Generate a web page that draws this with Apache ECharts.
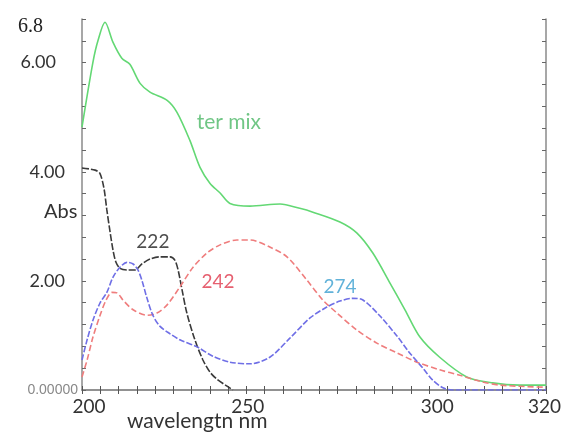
<!DOCTYPE html>
<html>
<head>
<meta charset="utf-8">
<script src="https://cdn.jsdelivr.net/npm/echarts@6/dist/echarts.min.js"></script>
<style>
  html, body { margin: 0; padding: 0; background: #fff; }
  #chart { width: 565px; height: 434px; }
</style>
</head>
<body>
<div id="chart"></div>
<script>
// wavelength (nm) / absorbance pairs
var terMixWl  = [200, 203, 204.4, 206.3, 208.5, 210.9, 213.1, 215.9, 218.6, 223.3, 226, 229.5, 232.3, 235, 237.8, 240.5, 246, 254.2, 259.6, 263.2, 270.6, 275.2, 279.6, 284.3, 288.4, 292.5, 297.9, 305.3, 312.4, 319.8, 327];
var terMixAbs = [4.82, 6.01, 6.41, 6.74, 6.37, 6.08, 5.97, 5.62, 5.46, 5.31, 5.09, 4.58, 4.08, 3.79, 3.61, 3.42, 3.37, 3.41, 3.33, 3.26, 3.08, 2.88, 2.51, 1.96, 1.47, 0.97, 0.60, 0.24, 0.13, 0.09, 0.09];

var c222Wl  = [200, 203.6, 204.9, 206, 206.8, 207.7, 208.5, 209.3, 210.4, 212.3, 214.5, 216.4, 218.6, 221.3, 224.1, 225.4, 226.3, 227.4, 228.7, 230.9, 233.1, 235, 236.9, 239.7, 241.3];
var c222Abs = [4.07, 4.03, 3.97, 3.70, 3.30, 2.89, 2.56, 2.34, 2.23, 2.20, 2.20, 2.31, 2.40, 2.44, 2.44, 2.38, 2.20, 1.83, 1.41, 0.92, 0.55, 0.33, 0.20, 0.07, 0];

var c242Wl  = [200, 201.4, 203, 204.9, 206.6, 208.2, 209.6, 211.2, 214, 217.8, 220.5, 223.3, 226.8, 230.4, 234.2, 237.8, 242.4, 246, 251.4, 256.1, 261.6, 265.9, 269.8, 275.2, 280.7, 286.2, 291.7, 297.9, 303.4, 308.9, 314.4, 327];
var c242Abs = [0.24, 0.55, 0.97, 1.36, 1.65, 1.79, 1.78, 1.65, 1.47, 1.37, 1.41, 1.56, 1.89, 2.25, 2.51, 2.66, 2.75, 2.75, 2.62, 2.44, 2.01, 1.65, 1.41, 1.10, 0.86, 0.68, 0.51, 0.37, 0.27, 0.16, 0.09, 0.05];

var c274Wl  = [200, 201.4, 203, 204.9, 206.8, 208.5, 210.4, 212.3, 214, 215.3, 216.4, 217.8, 219.4, 221.3, 224.1, 226.8, 231.5, 235.8, 240.5, 246, 251.4, 256.9, 262.4, 267, 270.6, 274.1, 276.9, 281.5, 286.2, 289.7, 293.3, 296, 298.8, 301.2, 310, 327];
var c274Abs = [0.55, 0.92, 1.28, 1.59, 1.79, 2.07, 2.25, 2.34, 2.31, 2.20, 2.01, 1.68, 1.37, 1.17, 1.03, 0.92, 0.79, 0.62, 0.51, 0.48, 0.60, 0.95, 1.32, 1.52, 1.63, 1.68, 1.65, 1.36, 0.99, 0.68, 0.40, 0.18, 0.04, 0, 0, 0];

var xLabelValues = [200, 250, 300, 320];
var yLabelValues = [0, 2, 4, 6, 6.8];

// peak annotations written on the plot
var noteText  = ['ter mix', '222', '242', '274'];
var noteWl    = [240.2, 219.4, 237.2, 270.6];
var noteAbs   = [4.91, 2.71, 1.98, 1.89];
var noteColor = ['#4cb866', '#222222', '#e0384c', '#3a9fd0'];

function pairs(xs, ys) {
    return xs.map(function (x, i) { return [x, ys[i]]; });
}

var chart = echarts.init(document.getElementById('chart'), null, { renderer: 'canvas' });

var frame = { lineStyle: { color: '#8a8a8a', width: 1.5 } };

var series = [
    { name: 'ter mix', data: pairs(terMixWl, terMixAbs), color: '#63d874', type: 'solid' },
    { name: '222', data: pairs(c222Wl, c222Abs), color: '#3a3a3a', type: [7, 2] },
    { name: '242', data: pairs(c242Wl, c242Abs), color: '#ef7d7d', type: [6, 3] },
    { name: '274', data: pairs(c274Wl, c274Abs), color: '#6f6fe6', type: [6, 2] }
].map(function (s) {
    return {
        name: s.name,
        type: 'line',
        data: s.data,
        smooth: 0.3,
        symbol: 'none',
        lineStyle: { color: s.color, width: 1.6, type: s.type },
        z: 3
    };
});

noteText.forEach(function (t, i) {
    series.push({
        type: 'scatter',
        data: [[noteWl[i], noteAbs[i]]],
        symbolSize: 0,
        silent: true,
        label: {
            show: true,
            position: 'inside',
            formatter: t,
            color: noteColor[i],
            fontSize: i === 0 ? 21 : 19,
            fontFamily: 'Lato'
        },
        z: 5
    });
});

chart.setOption({
    animation: false,
    backgroundColor: '#fff',
    grid: { left: 82, right: 19, top: 19, bottom: 44 },
    xAxis: [{
        type: 'value', min: 200, max: 327, interval: 5,
        axisLine: frame,
        axisTick: { inside: true, length: 4, lineStyle: { color: '#555' } },
        splitLine: { show: false },
        axisLabel: {
            customValues: xLabelValues,
            margin: 7,
            formatter: function (v) {
                // the printed labels sit a little off their ticks
                if (v === 200) return '{a|200}';
                if (v === 250) return '{b|250}';
                if (v === 300) return '{c|300}';
                return '{d|' + v + '}';
            },
            rich: {
                a: { color: '#333', fontSize: 19, fontFamily: 'Lato', padding: [0, 0, 0, 14] },
                b: { color: '#333', fontSize: 19, fontFamily: 'Lato', padding: [0, 34, 0, 0] },
                c: { color: '#333', fontSize: 19, fontFamily: 'Lato', padding: [0, 20, 0, 0] },
                d: { color: '#333', fontSize: 19, fontFamily: 'Lato', padding: [0, 0, 0, 48] }
            }
        }
    }, {
        type: 'value', min: 200, max: 327, interval: 5, position: 'top',
        axisLine: frame,
        axisTick: { inside: true, length: 4, lineStyle: { color: '#555' } },
        splitLine: { show: false },
        axisLabel: { show: false }
    }],
    yAxis: [{
        type: 'value', min: 0, max: 6.8, interval: 0.4,
        axisLine: frame,
        axisTick: { inside: true, length: 4, lineStyle: { color: '#666' } },
        splitLine: { show: false },
        axisLabel: {
            customValues: yLabelValues,
            margin: 4,
            formatter: function (v) {
                if (v === 0) return '{z|0.00000}';
                if (v === 6.8) return '{t|6.8}';
                if (v === 6) return '{s|6.00}';
                return '{n|' + v.toFixed(2) + '}';
            },
            rich: {
                z: { color: '#888', fontSize: 14, fontFamily: 'Liberation Sans' },
                t: { color: '#222', fontSize: 20, fontFamily: 'Liberation Serif', padding: [16, 35, 0, 0] },
                s: { color: '#333', fontSize: 18, fontFamily: 'Lato', padding: [0, 22, 0, 0] },
                n: { color: '#333', fontSize: 18, fontFamily: 'Lato', padding: [0, 13, 0, 0] }
            }
        }
    }, {
        type: 'value', min: 0, max: 6.8, interval: 0.4, position: 'right',
        axisLine: frame,
        axisTick: { inside: true, length: 4, lineStyle: { color: '#666' } },
        splitLine: { show: false },
        axisLabel: { show: false }
    }],
    graphic: [{
        type: 'text', left: 44, top: 202,
        style: { text: 'Abs', fill: '#333', fontSize: 20, fontFamily: 'Lato' }
    }, {
        type: 'text', left: 127, top: 411,
        style: { text: 'wavelengtn nm', fill: '#333', fontSize: 21, fontFamily: 'Lato', letterSpacing: 0.5 }
    }],
    series: series
});
</script>
</body>
</html>
